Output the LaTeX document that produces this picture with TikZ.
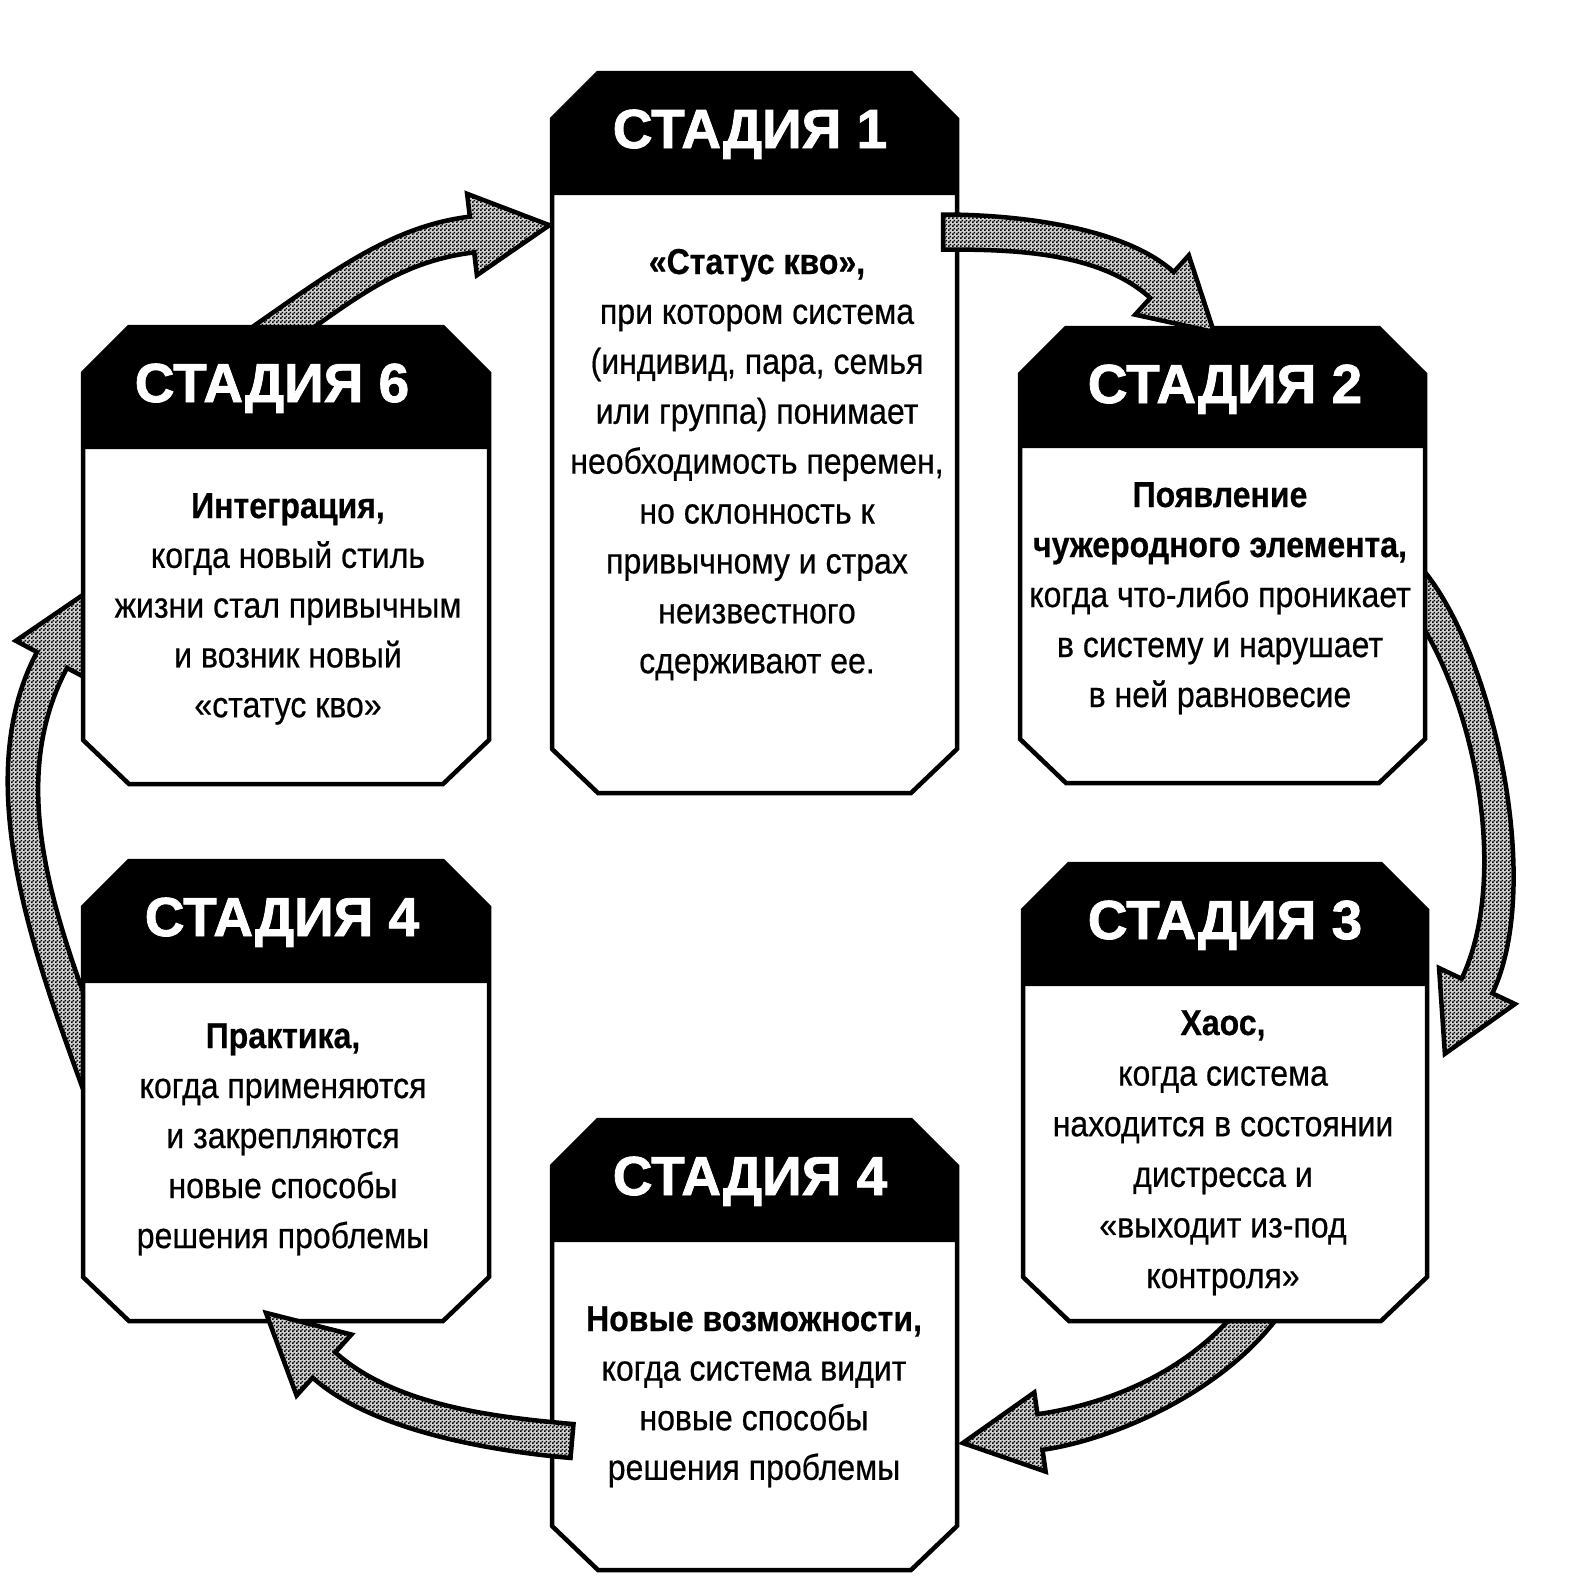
\documentclass[tikz,border=0pt]{standalone}
\usepackage{fontspec}
\usetikzlibrary{calc,patterns}
\newfontfamily\hdrfont[BoldFeatures={FakeBold=1.5}]{Liberation Sans}
\newfontfamily\bodyfont[FakeStretch=0.89, FakeBold=0.5]{Liberation Sans}
\pgfdeclarepatternformonly{chkdots}{\pgfpointorigin}{\pgfpoint{4pt}{4pt}}{\pgfpoint{4pt}{4pt}}{%
  \pgfpathrectangle{\pgfpointorigin}{\pgfpoint{2pt}{2pt}}%
  \pgfpathrectangle{\pgfpoint{2pt}{2pt}}{\pgfpoint{2pt}{2pt}}%
  \pgfusepath{fill}}
\tikzset{
  boxline/.style={draw=black, line width=4.5pt, line join=miter},
  arrowshape/.style={draw=black, line width=4.5pt, line join=miter, preaction={fill=black!18}, pattern=chkdots},
  hdr/.style={text=white, font=\hdrfont\bfseries\fontsize{55}{60}\selectfont, anchor=base, inner sep=0pt},
  bodyline/.style={font=\bodyfont\fontsize{36}{50}\selectfont, anchor=base, inner sep=0pt},
}
% block arrow: prefix, P0, P1, P2, P3 (centre line), half shaft, half head, head length
\newcommand\blockarrow[8]{%
  \coordinate (#1a0) at ($(#2)!#6pt!90:(#3)$);
  \coordinate (#1a1) at ($(#3)!#6pt!-90:(#2)$);
  \coordinate (#1a2) at ($(#4)!#6pt!90:(#5)$);
  \coordinate (#1a3) at ($(#5)!#6pt!-90:(#4)$);
  \coordinate (#1h1) at ($(#5)!#7pt!-90:(#4)$);
  \coordinate (#1tip) at ($(#5)!-#8pt!(#4)$);
  \coordinate (#1h2) at ($(#5)!#7pt!90:(#4)$);
  \coordinate (#1b3) at ($(#5)!#6pt!90:(#4)$);
  \coordinate (#1b2) at ($(#4)!#6pt!-90:(#5)$);
  \coordinate (#1b1) at ($(#3)!#6pt!90:(#2)$);
  \coordinate (#1b0) at ($(#2)!#6pt!-90:(#3)$);
  \draw[arrowshape] (#1a0) .. controls (#1a1) and (#1a2) .. (#1a3) -- (#1h1) -- (#1tip) -- (#1h2) -- (#1b3) .. controls (#1b2) and (#1b1) .. (#1b0) -- cycle;
}
% stage box: name, x1, y1, x2, y2, header bottom, title, title x
\newcommand\stagebox[8]{%
  \fill[white] (#2,#3+46) -- (#2+46,#3) -- (#4-46,#3) -- (#4,#3+46) -- (#4,#5-44) -- (#4-46,#5) -- (#2+46,#5) -- (#2,#5-44) -- cycle;
  \fill[black] (#2,#3+46) -- (#2+46,#3) -- (#4-46,#3) -- (#4,#3+46) -- (#4,#6) -- (#2,#6) -- cycle;
  \draw[boxline] (#2,#3+46) -- (#2+46,#3) -- (#4-46,#3) -- (#4,#3+46) -- (#4,#5-44) -- (#4-46,#5) -- (#2+46,#5) -- (#2,#5-44) -- cycle;
  \node[hdr] (#1) at (#8, #3+75) {#7};
}
\begin{document}
\begin{tikzpicture}[x=1pt, y=-1pt]
\useasboundingbox (0,0) rectangle (1585,1575);
\fill[white] (0,0) rectangle (1585,1575);

% arrows lying under the boxes
\coordinate (B0) at (1400,570);  \coordinate (B1) at (1475,640);
\coordinate (B2) at (1532,870);  \coordinate (B3) at (1477,986);
\blockarrow{arrB}{B0}{B1}{B2}{B3}{17}{42}{75}

\coordinate (C0) at (1268,1300); \coordinate (C1) at (1211,1382);
\coordinate (C2) at (1110,1422); \coordinate (C3) at (1040,1432);
\blockarrow{arrC}{C0}{C1}{C2}{C3}{18}{40}{78}

\coordinate (E0) at (105,1100);  \coordinate (E1) at (54,959);
\coordinate (E2) at (-18,792);   \coordinate (E3) at (52,660);
\blockarrow{arrE}{E0}{E1}{E2}{E3}{17}{41}{78}

\coordinate (F0) at (258,345);   \coordinate (F1) at (340,288);
\coordinate (F2) at (393,244);   \coordinate (F3) at (472,234.5);
\blockarrow{arrF}{F0}{F1}{F2}{F3}{18}{41}{78}

% boxes
\stagebox{s1}{552}{73}{957}{793}{195}{СТАДИЯ 1}{750}
\stagebox{s2}{1020}{328}{1425}{783}{448}{СТАДИЯ 2}{1225}
\stagebox{s6}{83}{327}{489}{784}{449}{СТАДИЯ 6}{272}
\stagebox{s4l}{83}{861}{489}{1321}{983}{СТАДИЯ 4}{282}
\stagebox{s3}{1023}{864}{1427}{1321}{986}{СТАДИЯ 3}{1225}
\stagebox{s4b}{552}{1120}{957}{1570}{1242}{СТАДИЯ 4}{750}

% texts
\foreach [count=\i] \t in {{\bfseries «Статус кво»,}, {при котором система}, {(индивид, пара, семья}, {или группа) понимает}, {необходимость перемен,}, {но склонность к}, {привычному и страх}, {неизвестного}, {сдерживают ее.}}
  \node[bodyline] (t1l\i) at (757, {274+49.9*(\i-1)}) {\t};
\foreach [count=\i] \t in {{\bfseries Появление}, {\bfseries чужеродного элемента,}, {когда что-либо проникает}, {в систему и нарушает}, {в ней равновесие}}
  \node[bodyline] (t2l\i) at (1220, {507+50*(\i-1)}) {\t};
\foreach [count=\i] \t in {{\bfseries Интеграция,}, {когда новый стиль}, {жизни стал привычным}, {и возник новый}, {«статус кво»}}
  \node[bodyline] (t6l\i) at (288, {518+49.8*(\i-1)}) {\t};
\foreach [count=\i] \t in {{\bfseries Практика,}, {когда применяются}, {и закрепляются}, {новые способы}, {решения проблемы}}
  \node[bodyline] (t4ll\i) at (283, {1048+50*(\i-1)}) {\t};
\foreach [count=\i] \t in {{\bfseries Хаос,}, {когда система}, {находится в состоянии}, {дистресса и}, {«выходит из-под}, {контроля»}}
  \node[bodyline] (t3l\i) at (1223, {1035+50.6*(\i-1)}) {\t};
\foreach [count=\i] \t in {{\bfseries Новые возможности,}, {когда система видит}, {новые способы}, {решения проблемы}}
  \node[bodyline] (t4bl\i) at (754, {1331+49.6*(\i-1)}) {\t};

% arrows lying over the boxes
\coordinate (A0) at (943,232);   \coordinate (A1) at (1010,232);
\coordinate (A2) at (1110,238);  \coordinate (A3) at (1162,285);
\blockarrow{arrA}{A0}{A1}{A2}{A3}{17.5}{40}{70}

\coordinate (D0) at (572,1441);  \coordinate (D1) at (492,1434);
\coordinate (D2) at (383,1418);  \coordinate (D3) at (324,1365);
\blockarrow{arrD}{D0}{D1}{D2}{D3}{17}{41}{78}
\end{tikzpicture}
\end{document}
